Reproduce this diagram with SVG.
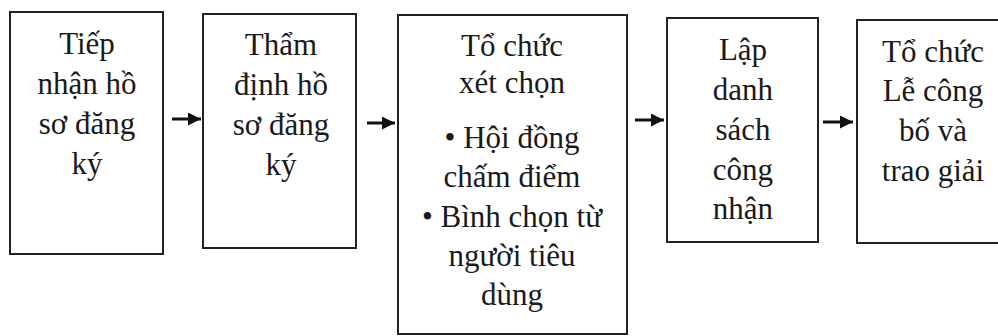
<svg xmlns="http://www.w3.org/2000/svg" width="998" height="336" viewBox="0 0 998 336">
<style>
.box{fill:#fff;stroke:#222;stroke-width:2}
text{font-family:'Liberation Serif','Tinos','Times New Roman','DejaVu Serif',serif;font-size:31px;fill:#1a1a1a;text-anchor:middle}
.conn line{stroke:#111;stroke-width:3}
</style>
<defs>
<marker id="ah" viewBox="0 0 10 10" refX="10" refY="5" markerWidth="15" markerHeight="13" markerUnits="userSpaceOnUse" orient="auto">
<path d="M0,0 L10,5 L0,10 Z" fill="#111"/>
</marker>
</defs>
<rect width="998" height="336" fill="#fff"/>
<g id="n1">
<rect class="box" x="10" y="12" width="153" height="242"/>
<text x="87" y="54">Tiếp</text>
<text x="87" y="94">nhận hồ</text>
<text x="87" y="134">sơ đăng</text>
<text x="87" y="174">ký</text>
</g>
<g id="n2">
<rect class="box" x="203" y="14" width="153" height="234"/>
<text x="281" y="55">Thẩm</text>
<text x="281" y="95">định hồ</text>
<text x="281" y="135">sơ đăng</text>
<text x="281" y="175">ký</text>
</g>
<g id="n3">
<rect class="box" x="398" y="15" width="229" height="319"/>
<text x="512" y="56">Tổ chức</text>
<text x="512" y="93">xét chọn</text>
<text x="512" y="148">• Hội đồng</text>
<text x="512" y="187">chấm điểm</text>
<text x="512" y="227">• Bình chọn từ</text>
<text x="512" y="266">người tiêu</text>
<text x="512" y="305">dùng</text>
</g>
<g id="n4">
<rect class="box" x="667" y="18" width="151" height="224"/>
<text x="743" y="60">Lập</text>
<text x="743" y="100">danh</text>
<text x="743" y="140">sách</text>
<text x="743" y="180">công</text>
<text x="743" y="219">nhận</text>
</g>
<g id="n5">
<rect class="box" x="857" y="20" width="160" height="223"/>
<text x="933" y="62">Tổ chức</text>
<text x="933" y="101">Lễ công</text>
<text x="933" y="141">bố và</text>
<text x="933" y="181">trao giải</text>
</g>
<g class="conn" id="connectors">
<line x1="172" y1="119" x2="201" y2="119" marker-end="url(#ah)"/>
<line x1="367" y1="123" x2="395" y2="123" marker-end="url(#ah)"/>
<line x1="635" y1="120" x2="664" y2="120" marker-end="url(#ah)"/>
<line x1="823" y1="122" x2="853" y2="122" marker-end="url(#ah)"/>
</g>
</svg>
